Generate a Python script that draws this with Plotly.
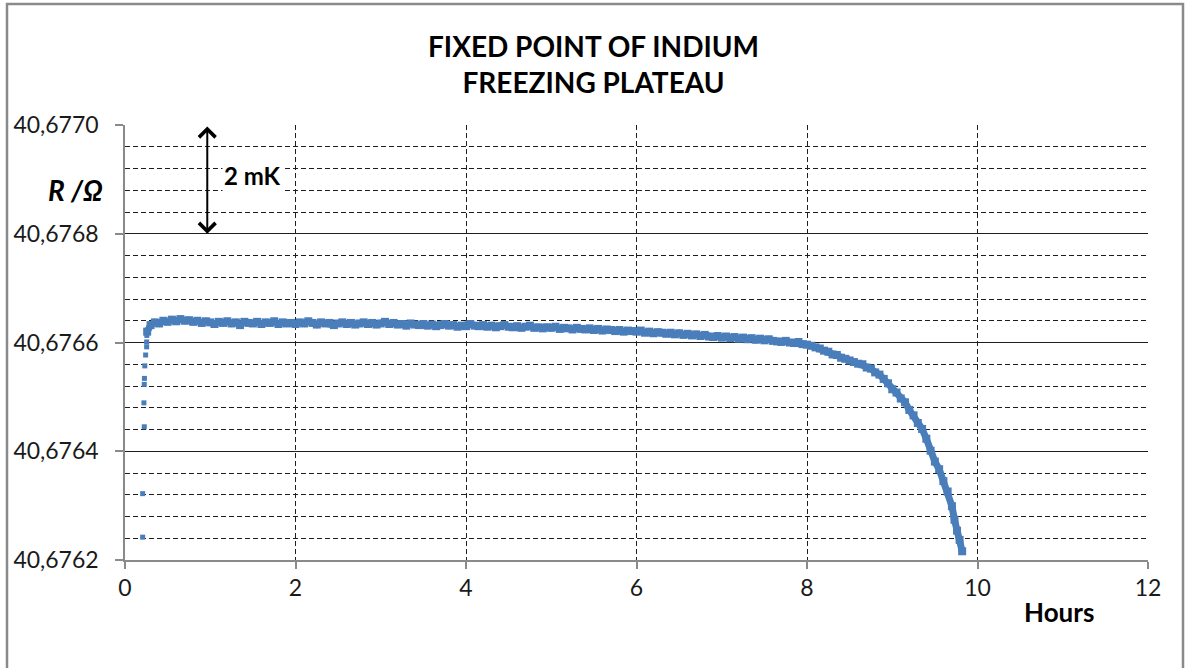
import plotly.graph_objects as go

# ---------------- data ----------------
# initial rise of the resistance (isolated points)
rise_hours = [0.207, 0.207, 0.226, 0.222, 0.226, 0.228, 0.232, 0.242, 0.254, 0.254, 0.256]
rise_ohm = [40.676242, 40.676322, 40.676445, 40.676489, 40.676523, 40.676534,
            40.676557, 40.676577, 40.676592, 40.676601, 40.676613]

# freezing plateau and final drop
plateau_hours = [
    0.26, 0.30, 0.35, 0.40, 0.45, 0.50, 0.55, 0.60, 0.65, 0.70, 0.75, 0.80, 0.85, 0.90, 0.95,
    1.00, 1.05, 1.10, 1.15, 1.20, 1.25, 1.30, 1.35, 1.40, 1.45, 1.50, 1.55, 1.60, 1.65, 1.70,
    1.75, 1.80, 1.85, 1.90, 1.95, 2.00, 2.05, 2.10, 2.15, 2.20, 2.25, 2.30, 2.35, 2.40, 2.45,
    2.50, 2.55, 2.60, 2.65, 2.70, 2.75, 2.80, 2.85, 2.90, 2.95, 3.00, 3.05, 3.10, 3.15, 3.20,
    3.25, 3.30, 3.35, 3.40, 3.45, 3.50, 3.55, 3.60, 3.65, 3.70, 3.75, 3.80, 3.85, 3.90, 3.95,
    4.00, 4.05, 4.10, 4.15, 4.20, 4.25, 4.30, 4.35, 4.40, 4.45, 4.50, 4.55, 4.60, 4.65, 4.70,
    4.75, 4.80, 4.85, 4.90, 4.95, 5.00, 5.05, 5.10, 5.15, 5.20, 5.25, 5.30, 5.35, 5.40, 5.45,
    5.50, 5.55, 5.60, 5.65, 5.70, 5.75, 5.80, 5.85, 5.90, 5.95, 6.00, 6.05, 6.10, 6.15, 6.20,
    6.25, 6.30, 6.35, 6.40, 6.45, 6.50, 6.55, 6.60, 6.65, 6.70, 6.75, 6.80, 6.85, 6.90, 6.95,
    7.00, 7.05, 7.10, 7.15, 7.20, 7.25, 7.30, 7.35, 7.40, 7.45, 7.50, 7.55, 7.60, 7.65, 7.70,
    7.75, 7.80, 7.85, 7.90, 7.95, 8.00, 8.05, 8.10, 8.15, 8.20, 8.25, 8.30, 8.35, 8.40, 8.45,
    8.50, 8.55, 8.60, 8.65, 8.70, 8.75, 8.80, 8.85, 8.90, 8.95, 9.00, 9.05, 9.10, 9.15, 9.20,
    9.25, 9.30, 9.35, 9.40, 9.45, 9.50, 9.55, 9.60, 9.65, 9.70, 9.73, 9.76, 9.79, 9.82,
]
plateau_ohm = [
    40.676620, 40.676632, 40.676637, 40.676635, 40.676640, 40.676638, 40.676642, 40.676639,
    40.676643, 40.676640, 40.676641, 40.676638, 40.676640, 40.676636, 40.676639, 40.676637,
    40.676634, 40.676638, 40.676636, 40.676639, 40.676635, 40.676637, 40.676632, 40.676638,
    40.676636, 40.676635, 40.676638, 40.676634, 40.676637, 40.676636, 40.676639, 40.676634,
    40.676637, 40.676635, 40.676636, 40.676634, 40.676637, 40.676635, 40.676639, 40.676636,
    40.676633, 40.676637, 40.676635, 40.676636, 40.676632, 40.676635, 40.676637, 40.676634,
    40.676636, 40.676633, 40.676635, 40.676637, 40.676634, 40.676636, 40.676633, 40.676635,
    40.676638, 40.676634, 40.676636, 40.676633, 40.676634, 40.676631, 40.676635, 40.676633,
    40.676632, 40.676634, 40.676631, 40.676633, 40.676630, 40.676632, 40.676634, 40.676631,
    40.676632, 40.676629, 40.676631, 40.676630, 40.676634, 40.676631, 40.676630, 40.676632,
    40.676629, 40.676631, 40.676628, 40.676630, 40.676632, 40.676629, 40.676628, 40.676630,
    40.676627, 40.676629, 40.676631, 40.676627, 40.676628, 40.676626, 40.676628, 40.676627,
    40.676629, 40.676625, 40.676627, 40.676626, 40.676624, 40.676627, 40.676625, 40.676624,
    40.676626, 40.676623, 40.676625, 40.676622, 40.676624, 40.676623, 40.676621, 40.676623,
    40.676620, 40.676622, 40.676621, 40.676620, 40.676622, 40.676618, 40.676620, 40.676617,
    40.676619, 40.676618, 40.676616, 40.676618, 40.676615, 40.676617, 40.676614, 40.676616,
    40.676613, 40.676615, 40.676612, 40.676614, 40.676611, 40.676610, 40.676612, 40.676609,
    40.676611, 40.676608, 40.676610, 40.676607, 40.676609, 40.676606, 40.676608, 40.676605,
    40.676607, 40.676604, 40.676606, 40.676603, 40.676602, 40.676601, 40.676603, 40.676600,
    40.676599, 40.676601, 40.676597, 40.676596, 40.676594, 40.676591, 40.676589, 40.676585,
    40.676583, 40.676578, 40.676577, 40.676572, 40.676570, 40.676567, 40.676564, 40.676561,
    40.676560, 40.676554, 40.676552, 40.676545, 40.676541, 40.676533, 40.676525, 40.676514,
    40.676508, 40.676497, 40.676490, 40.676476, 40.676466, 40.676452, 40.676441, 40.676423,
    40.676401, 40.676381, 40.676367, 40.676345, 40.676326, 40.676299, 40.676274, 40.676254,
    40.676237, 40.676216, 40.676200,
]

x_ticks = [0, 2, 4, 6, 8, 10, 12]
y_ticks = [40.6762, 40.6764, 40.6766, 40.6768, 40.6770]

BLUE = "#4A7EBB"
FONT = "Lato"
GRID = "#1e1e1e"
AXIS = "#8a8a8a"

fig = go.Figure()
fig.add_trace(go.Scatter(
    x=plateau_hours, y=plateau_ohm, mode="lines+markers",
    line=dict(color=BLUE, width=7),
    marker=dict(color=BLUE, size=8, symbol="square"),
    showlegend=False, hoverinfo="skip",
))
fig.add_trace(go.Scatter(
    x=rise_hours, y=rise_ohm, mode="markers",
    marker=dict(color=BLUE, size=5, symbol="square"),
    showlegend=False, hoverinfo="skip",
))

fig.update_layout(
    width=1187, height=668,
    margin=dict(l=125, r=39, t=125, b=108),
    paper_bgcolor="white", plot_bgcolor="white",
    separators=",.",
    font=dict(family=FONT, size=23, color="#1a1a1a"),
    title=dict(
        text="<b>FIXED POINT OF INDIUM<br>FREEZING PLATEAU</b>",
        x=0.5, xref="container", xanchor="center",
        y=1 - 57 / 668, yref="container", yanchor="top",
        font=dict(family=FONT, size=28, color="black"),
    ),
    xaxis=dict(
        range=[0, 12], tickvals=x_ticks, ticktext=[str(v) for v in x_ticks],
        showgrid=True, gridcolor=GRID, gridwidth=1, griddash="5px,3px",
        showline=True, linecolor=AXIS, linewidth=1.5,
        ticks="outside", ticklen=7, tickcolor=AXIS, tickwidth=1.5,
        zeroline=False,
    ),
    yaxis=dict(
        range=[40.67619999, 40.67700001], tickvals=y_ticks, tickformat=".4f",
        showgrid=True, gridcolor=GRID, gridwidth=1,
        showline=True, linecolor=AXIS, linewidth=1.5,
        ticks="outside", ticklen=8, tickcolor=AXIS, tickwidth=1.5,
        ticklabelstandoff=12,
        zeroline=False,
        minor=dict(dtick=0.00004, tick0=40.6762, showgrid=True, gridcolor=GRID,
                   gridwidth=1, griddash="5px,3px", ticks=""),
    ),
    shapes=[dict(
        type="rect", xref="paper", yref="paper",
        x0=(7 - 125) / 1023, x1=(1183 - 125) / 1023,
        y0=(560 - 675) / 435, y1=(560 - 4) / 435,
        line=dict(color="#8a8a8a", width=2.5), fillcolor="rgba(0,0,0,0)", layer="below",
    )],
    annotations=[
        dict(x=0.965, y=40.6768, ax=0.965, ay=40.6770, xref="x", yref="y",
             axref="x", ayref="y", text="", showarrow=True,
             arrowhead=4, startarrowhead=4, arrowside="end+start",
             arrowsize=1.6, arrowwidth=2, arrowcolor="black", standoff=0, startstandoff=0),
        dict(x=1.5, y=40.676908, xref="x", yref="y", text="<b>2 mK</b>", showarrow=False,
             font=dict(family=FONT, size=24, color="black"), bgcolor="white",
             xanchor="center", yanchor="middle"),
        dict(x=(75 - 125) / 1023, y=(560 - 190) / 435, xref="paper", yref="paper",
             text="<b><i>R /Ω</i></b>", showarrow=False,
             font=dict(family=FONT, size=28, color="black"),
             xanchor="center", yanchor="middle"),
        dict(x=(1059 - 125) / 1023, y=(560 - 612) / 435, xref="paper", yref="paper",
             text="<b>Hours</b>", showarrow=False,
             font=dict(family=FONT, size=26, color="black"),
             xanchor="center", yanchor="middle"),
    ],
)

fig.write_html("out.html")
